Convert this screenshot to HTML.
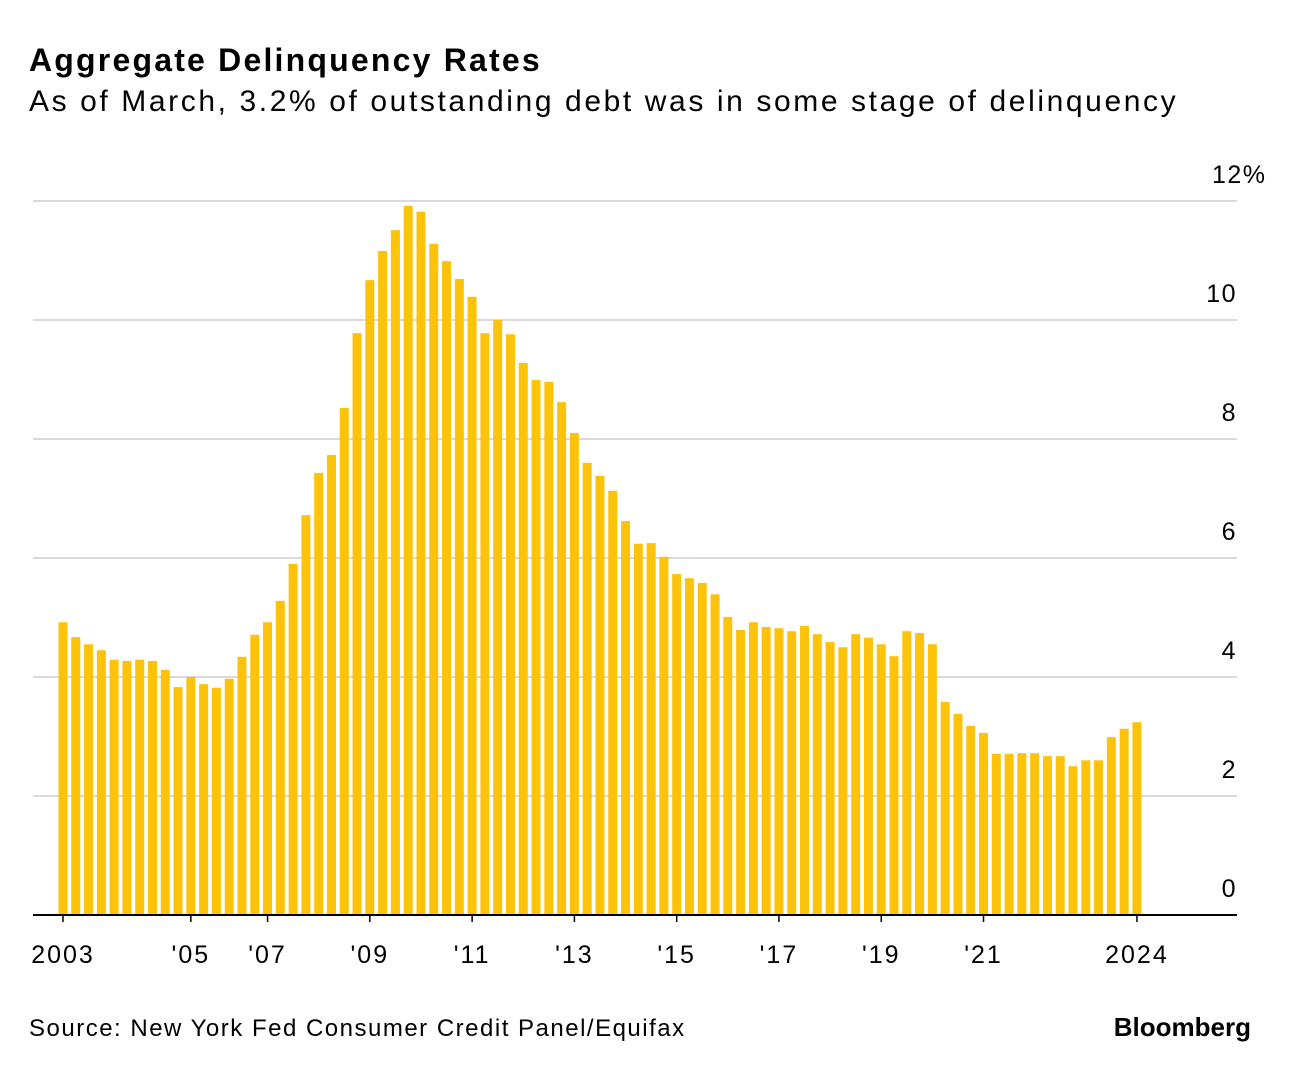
<!DOCTYPE html>
<html><head><meta charset="utf-8">
<style>
body{margin:0;background:#fff;width:1291px;height:1072px;overflow:hidden;font-family:"Liberation Sans",sans-serif;color:#000}
#title{position:absolute;left:29px;top:42px;font-size:32px;font-weight:bold;letter-spacing:2.2px}
#sub{position:absolute;left:29px;top:85px;font-size:30px;letter-spacing:2.6px}
#src{position:absolute;left:29px;top:1015px;font-size:24px;letter-spacing:1.5px}
#brand{position:absolute;right:40px;top:1012px;font-size:26px;font-weight:bold;letter-spacing:0px}
svg{position:absolute;left:0;top:0}
</style></head><body>
<div id="title">Aggregate Delinquency Rates</div>
<div id="sub">As of March, 3.2% of outstanding debt was in some stage of delinquency</div>
<svg id="chart" width="1291" height="1072"></svg>
<div id="src">Source: New York Fed Consumer Credit Panel/Equifax</div>
<div id="brand">Bloomberg</div>
<script>
const values=[4.92,4.67,4.55,4.45,4.29,4.27,4.29,4.27,4.12,3.83,4.0,3.88,3.82,3.97,4.34,4.71,4.92,5.28,5.9,6.72,7.43,7.73,8.52,9.78,10.67,11.16,11.51,11.92,11.82,11.28,10.99,10.69,10.39,9.78,10.0,9.76,9.28,8.99,8.96,8.62,8.1,7.6,7.38,7.13,6.62,6.24,6.25,6.02,5.73,5.66,5.58,5.39,5.01,4.79,4.92,4.84,4.82,4.77,4.86,4.72,4.59,4.5,4.72,4.66,4.55,4.35,4.77,4.74,4.55,3.58,3.38,3.18,3.06,2.71,2.71,2.72,2.72,2.67,2.67,2.5,2.6,2.6,2.99,3.13,3.24];
const startYear=2003;
const yTicks=[0,2,4,6,8,10,12];
const yTickLabels=["0","2","4","6","8","10","12%"];
const xTickYears=[2003,2005.5,2007,2009,2011,2013,2015,2017,2019,2021,2024];
const xTickLabels=["2003","'05","'07","'09","'11","'13","'15","'17","'19","'21","2024"];
const svg=document.getElementById('chart');const NS='http://www.w3.org/2000/svg';
const y=v=>915-v*59.5;
const x=t=>63+(t-startYear)*51.14;
function mk(tag,a){const e=document.createElementNS(NS,tag);for(const k in a)e.setAttribute(k,a[k]);svg.appendChild(e);return e;}
yTicks.forEach((v,i)=>{
 if(v>0){const g=mk('line',{x1:33,x2:1237,y1:y(v),y2:y(v),stroke:'#d9d9d9','stroke-width':2});
 
 }
 const last=i===yTicks.length-1;
 const t=mk('text',{x:last?1212:1237,y:y(v)-18,'text-anchor':last?'start':'end','font-size':25,'letter-spacing':1.5,'font-family':'Liberation Sans, sans-serif'});
 t.textContent=yTickLabels[i];
 
 
});
values.forEach((v,i)=>{
 const cx=x(startYear+i/4);
 const r=mk('rect',{x:cx-4.5,y:y(v),width:9,height:v*59.5,fill:'#fcc30a'});
 
 
});
const ax=mk('line',{x1:33,x2:1237,y1:915,y2:915,stroke:'#000','stroke-width':2});


xTickYears.forEach((yr,i)=>{
 const cx=x(yr);
 const tk=mk('line',{x1:cx,x2:cx,y1:915,y2:922,stroke:'#000','stroke-width':1.5});
 
 
 const t=mk('text',{x:cx,y:963,'text-anchor':'middle','font-size':25,'letter-spacing':2,'font-family':'Liberation Sans, sans-serif'});
 t.textContent=xTickLabels[i];
 
 
});
</script>
</body></html>
